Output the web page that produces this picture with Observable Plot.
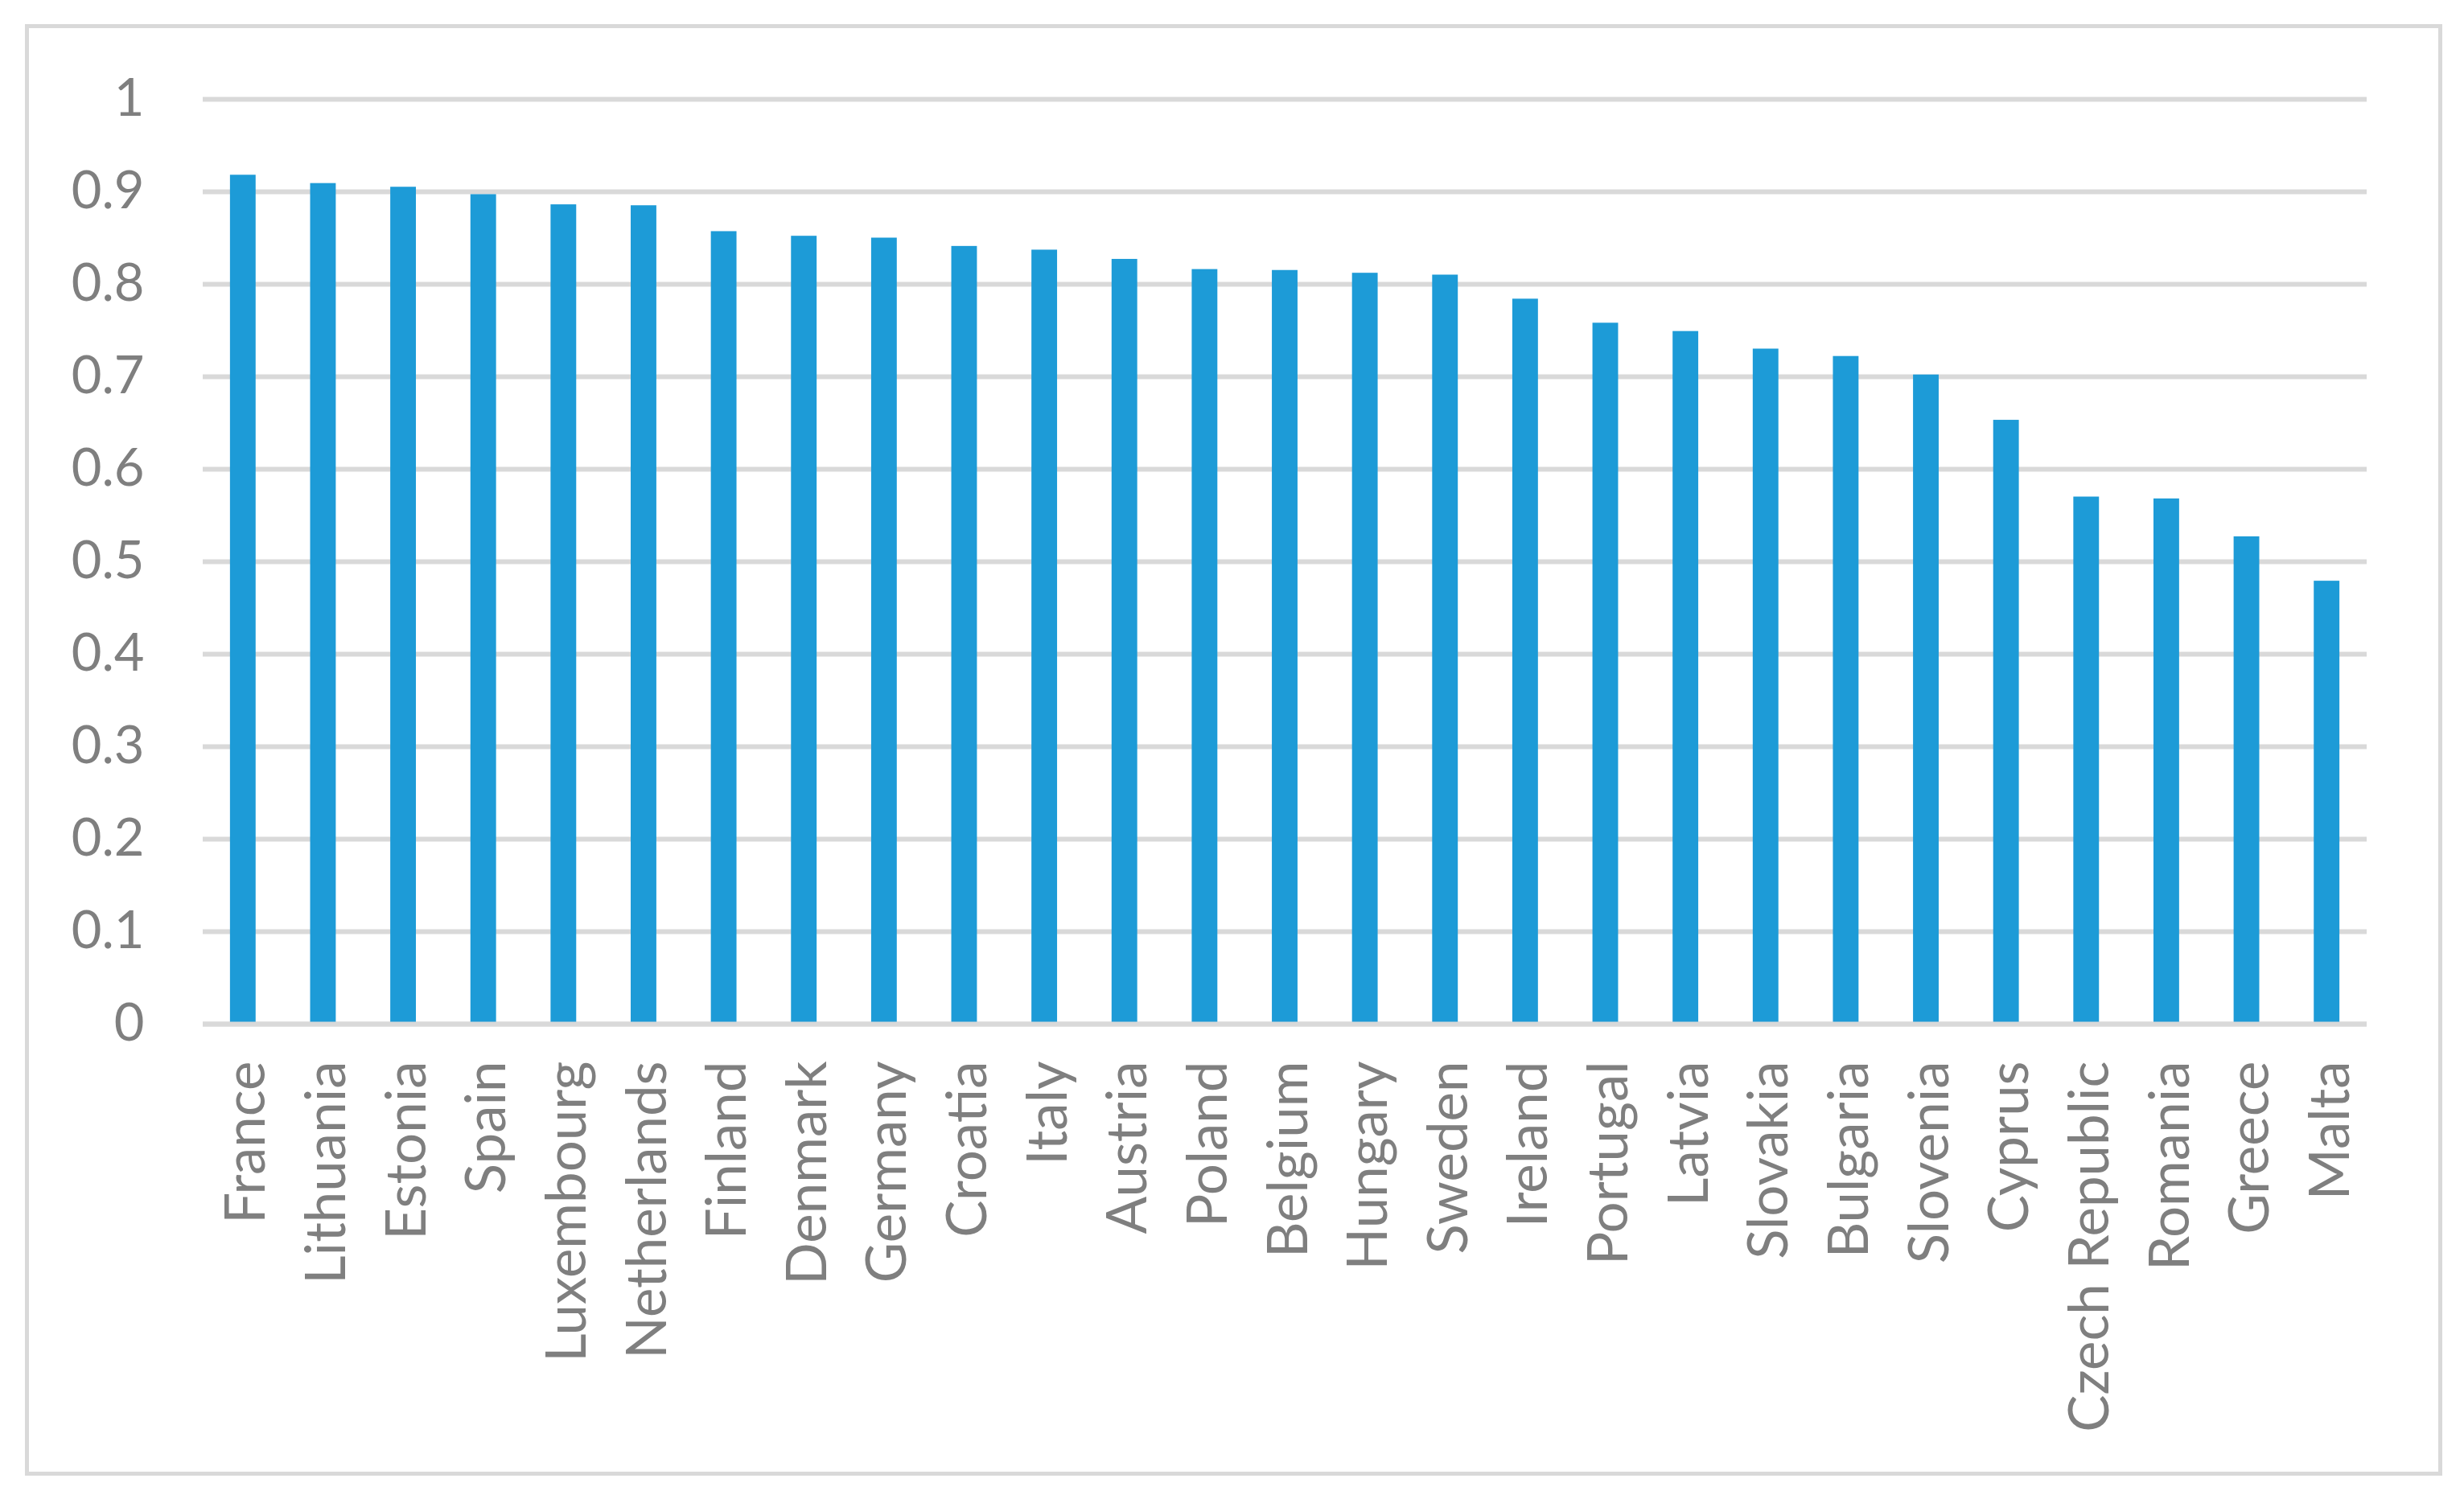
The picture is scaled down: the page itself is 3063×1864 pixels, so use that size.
<!DOCTYPE html>
<html>
<head>
<meta charset="utf-8">
<script src="https://cdn.jsdelivr.net/npm/d3@7"></script>
<script src="https://cdn.jsdelivr.net/npm/@observablehq/plot@0.6"></script>
<style>
  html, body { margin: 0; padding: 0; background: #ffffff; }
  #wrap { position: relative; width: 3063px; height: 1864px; }
  #frame { position: absolute; left: 31px; top: 30px; width: 3005px; height: 1805px;
           box-sizing: border-box; border: 5px solid #d9d9d9; pointer-events: none; }
  #chart { position: absolute; left: 0; top: 0; }
</style>
</head>
<body>
<div id="wrap">
  <div id="chart"></div>
  <div id="frame"></div>
</div>
<script>
const countries = ["France", "Lithuania", "Estonia", "Spain", "Luxembourg", "Netherlands", "Finland",
  "Denmark", "Germany", "Croatia", "Italy", "Austria", "Poland", "Belgium", "Hungary", "Sweden",
  "Ireland", "Portugal", "Latvia", "Slovakia", "Bulgaria", "Slovenia", "Cyprus", "Czech Republic",
  "Romania", "Greece", "Malta"];
const values = [0.918, 0.909, 0.905, 0.897, 0.886, 0.885, 0.857,
  0.852, 0.850, 0.841, 0.837, 0.827, 0.816, 0.815, 0.812, 0.810,
  0.784, 0.758, 0.749, 0.730, 0.722, 0.702, 0.653, 0.570,
  0.568, 0.527, 0.479];
const yTicks = [0, 0.1, 0.2, 0.3, 0.4, 0.5, 0.6, 0.7, 0.8, 0.9, 1];
const yTickLabels = ["0", "0.1", "0.2", "0.3", "0.4", "0.5", "0.6", "0.7", "0.8", "0.9", "1"];

const data = countries.map((c, i) => ({country: c, value: values[i]}));

const chart = Plot.plot({
  width: 3063,
  height: 1864,
  marginLeft: 252,
  marginRight: 121,
  marginTop: 123,
  marginBottom: 591,
  style: {background: "transparent", fontFamily: "Lato, 'Open Sans', sans-serif", color: "#7f7f7f"},
  x: {domain: countries, paddingInner: 0.68, paddingOuter: 0.34, round: false, axis: null},
  y: {domain: [0, 1], axis: null},
  marks: [
    Plot.ruleY(yTicks, {stroke: "#d9d9d9", strokeWidth: 6}),
    Plot.barY(data, {x: "country", y: "value", fill: "#1d9bd7"}),
    Plot.ruleY(yTicks.slice(0, 1), {stroke: "#d9d9d9", strokeWidth: 6}),
    Plot.text(yTicks, {y: d => d, text: (d, i) => yTickLabels[i], frameAnchor: "left", dx: -73,
      textAnchor: "end", fontSize: 65, fill: "#7f7f7f", fontFamily: "Lato"}),
    Plot.text(countries, {x: d => d, text: d => d, frameAnchor: "bottom", dy: 46, dx: 5,
      rotate: -90, textAnchor: "end", lineAnchor: "middle", fontSize: 69, fill: "#7f7f7f", fontFamily: "Lato"})
  ]
});
document.getElementById("chart").appendChild(chart);
</script>
</body>
</html>
